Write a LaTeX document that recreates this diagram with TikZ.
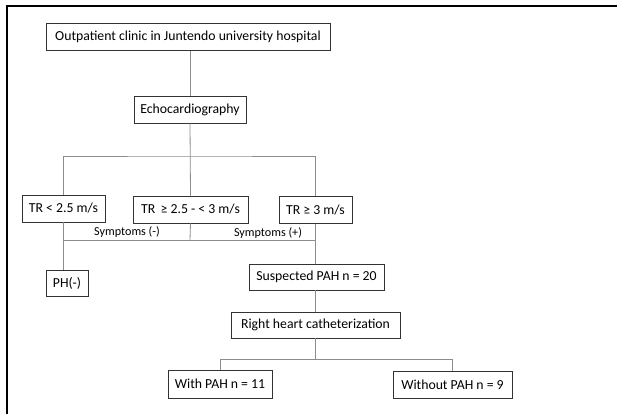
\documentclass[tikz,border=0pt]{standalone}
\usepackage{fontspec}
\setmainfont{Carlito}
\usepackage{tikz}
\usetikzlibrary{calc}

\begin{document}
\begin{tikzpicture}[x=1bp,y=-1bp,
  box/.style={draw=black!80,line width=0.9bp,rectangle,inner sep=0pt,minimum height=27bp,font=\fontsize{13.8}{15}\selectfont},
  link/.style={draw=black!45,line width=0.8bp},
  symp/.style={inner sep=0pt,font=\fontsize{12.2}{14}\selectfont}]
\useasboundingbox (0,0) rectangle (617,414);
\draw[line width=2bp] (7,414) -- (7,6) -- (617,6);
\node[box,minimum width=284bp] (clinic) at (188,37) {Outpatient clinic in Juntendo university hospital};
\node[box,minimum width=112bp] (echo) at (190,109.5) {Echocardiography};
\node[box,minimum width=83bp] (low) at (63.5,208.5) {TR < 2.5 m/s};
\node[box,minimum width=115bp] (mid) at (190.5,209.5) {TR\, ≥ 2.5 - < 3 m/s};
\node[box,minimum width=73bp] (high) at (315.5,210) {TR ≥ 3 m/s};
\node[box,minimum width=42bp,minimum height=26bp] (phneg) at (67,283) {PH(-)};
\node[box,minimum width=135bp,minimum height=26bp] (susp) at (316.5,277) {Suspected PAH n = 20};
\node[box,minimum width=169bp,minimum height=26bp] (rhc) at (315.5,325) {Right heart catheterization};
\node[box,minimum width=104bp,minimum height=28bp] (with) at (220,384) {With PAH n = 11};
\node[box,minimum width=119bp] (without) at (452.5,384.5) {Without PAH n = 9};
\node[symp] (sneg) at (127,232) {Symptoms (-)};
\node[symp] (spos) at (268,233) {Symptoms (+)};
\coordinate (fork) at (190,156);
\coordinate (join) at (190,240);
\coordinate (split) at (315,359);
\draw[link] (echo.north |- clinic.south) -- (echo.north);
\draw[link] (echo.south) -- (mid.north);
\draw[link] (low.north) |- (fork) -| (high.north);
\draw[link] (low.south) -- (low.south |- phneg.north);
\draw[link] (mid.south) -- (join);
\draw[link] (low.south |- join) -- (high.south |- join);
\draw[link] (high.south) -- (high.south |- susp.north);
\draw[link] (susp.south -| rhc.north) -- (rhc.north);
\draw[link] (rhc.south) -- (rhc.south |- split);
\draw[link] (with.north) |- (split) -| (without.north);
\end{tikzpicture}
\end{document}
